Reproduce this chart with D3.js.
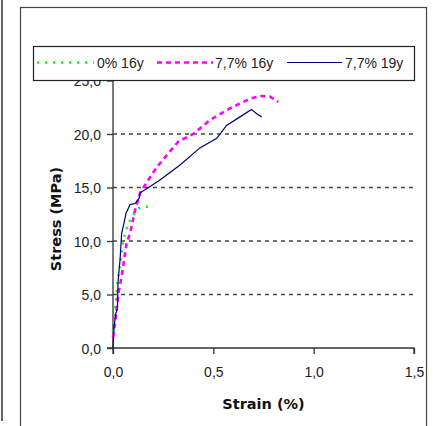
<!DOCTYPE html>
<html>
<head>
<meta charset="utf-8">
<script src="https://cdn.jsdelivr.net/npm/d3@7"></script>
<style>
  html, body { margin: 0; padding: 0; background: #fff; }
  svg { display: block; }
</style>
</head>
<body>
<svg id="chart" width="433" height="426"></svg>
<script>
// ---- data ----
const seriesNames = ["0% 16y", "7,7% 16y", "7,7% 19y"];
const xTicks = [0, 0.5, 1.0, 1.5];
const yTicks = [0, 5, 10, 15, 20, 25];

const strain0_16 = [0.000, 0.005, 0.015, 0.025, 0.038, 0.051, 0.076, 0.100, 0.126, 0.150, 0.176, 0.193];
const stress0_16 = [1.5,   2.6,   4.5,   6.5,   8.2,   10.1,  11.65, 12.4,  13.05, 13.2,  13.2,  12.75];

const strain77_16 = [0.000, 0.010, 0.027, 0.043, 0.068, 0.085, 0.110, 0.135, 0.176, 0.218, 0.276, 0.326, 0.400, 0.483, 0.583, 0.683, 0.732, 0.782, 0.824];
const stress77_16 = [1.0,   2.3,   5.1,   6.7,   9.8,   10.7,  12.9,  14.5,  15.7,  16.9,  18.2,  19.3,  20.0,  21.3,  22.4,  23.3,  23.55, 23.5,  23.0];

const strain77_19 = [0.000, 0.005, 0.015, 0.022, 0.025, 0.035, 0.043, 0.055, 0.065, 0.085, 0.110, 0.130, 0.135, 0.185, 0.234, 0.334, 0.433, 0.517, 0.566, 0.633, 0.690, 0.716, 0.741];
const stress77_19 = [0.0,   2.0,   3.3,   3.7,   6.2,   8.2,   10.7,  11.7,  12.6,  13.4,  13.5,  14.0,  14.5,  15.1,  15.7,  17.1,  18.7,  19.6,  20.8,  21.6,  22.3,  21.9,  21.6];

// ---- layout ----
const svg = d3.select("#chart");
const x = d3.scaleLinear().domain([0, 1.5]).range([113, 414]);
const y = d3.scaleLinear().domain([0, 25]).range([348, 80.5]);
const fmt = d => d3.format(".1f")(d).replace(".", ",");

// outer frames
svg.append("line").attr("x1", 2).attr("x2", 2).attr("y1", 0).attr("y2", 421)
  .attr("stroke", "#333").attr("stroke-width", 1.5);
svg.append("rect").attr("x", 20.5).attr("y", 7.5).attr("width", 406).attr("height", 430)
  .attr("fill", "none").attr("stroke", "#444").attr("stroke-width", 1.2);

// gridlines
const gridG = svg.append("g");
gridG.selectAll("line").data(yTicks.filter(d => d > 0 && d < 25)).join("line")
  .attr("x1", x(0)).attr("x2", x(1.5))
  .attr("y1", d => y(d)).attr("y2", d => y(d))
  .attr("stroke", "#444").attr("stroke-width", 1.4).attr("stroke-dasharray", "4,4");

// axes
const yAxis = d3.axisLeft(y).tickValues(yTicks).tickFormat(fmt).tickSize(6).tickPadding(6);
const xAxis = d3.axisBottom(x).tickValues(xTicks).tickFormat(fmt).tickSize(6).tickPadding(13);

const gy = svg.append("g").attr("transform", `translate(${x(0)},0)`).call(yAxis);
const gx = svg.append("g").attr("transform", `translate(0,${y(0)})`).call(xAxis);
[gx, gy].forEach(g => {
  g.select(".domain").attr("stroke", "#333").attr("stroke-width", 1.3);
  g.selectAll(".tick line").attr("stroke", "#333").attr("stroke-width", 1.3);
  g.selectAll(".tick text").attr("fill", "#222")
    .style("font-family", "'Liberation Sans', Arial, sans-serif").style("font-size", "14px");
});
gy.select(".domain").attr("d", `M-6,${y(0)}H0V${y(25)}`);
gx.select(".domain").attr("d", `M${x(0)},6V0H${x(1.5)}V6`);
gy.selectAll(".tick text").attr("dy", "0.36em");

// series
const line = d3.line().x(d => x(d[0])).y(d => y(d[1]));
const styles = [
  { xs: strain0_16, ys: stress0_16, color: "#00ff00", width: 2.6, dash: "2,6" },
  { xs: strain77_16, ys: stress77_16, color: "#ff00ff", width: 2.6, dash: "5,4" },
  { xs: strain77_19, ys: stress77_19, color: "#000080", width: 1.2, dash: null }
];
styles.forEach(s => {
  const pts = s.xs.map((v, i) => [v, s.ys[i]]);
  svg.append("path").attr("d", line(pts)).attr("fill", "none")
    .attr("stroke", s.color).attr("stroke-width", s.width)
    .attr("stroke-dasharray", s.dash);
});

// axis titles
svg.append("text").attr("x", 263.5).attr("y", 409).attr("text-anchor", "middle")
  .style("font-family", "'DejaVu Sans', Verdana, sans-serif").style("font-weight", "bold")
  .style("font-size", "14.5px").attr("fill", "#111").text("Strain (%)");
svg.append("text").attr("transform", "translate(61,219) rotate(-90)").attr("text-anchor", "middle")
  .style("font-family", "'DejaVu Sans', Verdana, sans-serif").style("font-weight", "bold")
  .style("font-size", "14.5px").attr("fill", "#111").text("Stress (MPa)");

// legend
const lg = svg.append("g");
lg.append("rect").attr("x", 33.5).attr("y", 46.5).attr("width", 381).attr("height", 34)
  .attr("fill", "#fff").attr("stroke", "#222").attr("stroke-width", 1.2);
const legItems = [
  { x1: 37, x2: 94, tx: 97 },
  { x1: 157, x2: 213, tx: 215 },
  { x1: 287, x2: 342, tx: 345 }
];
legItems.forEach((it, i) => {
  lg.append("line").attr("x1", it.x1).attr("x2", it.x2).attr("y1", 62.5).attr("y2", 62.5)
    .attr("stroke", styles[i].color).attr("stroke-width", styles[i].width)
    .attr("stroke-dasharray", styles[i].dash);
  lg.append("text").attr("x", it.tx).attr("y", 68)
    .style("font-family", "'Liberation Sans', Arial, sans-serif").style("font-size", "14px")
    .attr("fill", "#222").text(seriesNames[i]);
});
</script>
</body>
</html>
